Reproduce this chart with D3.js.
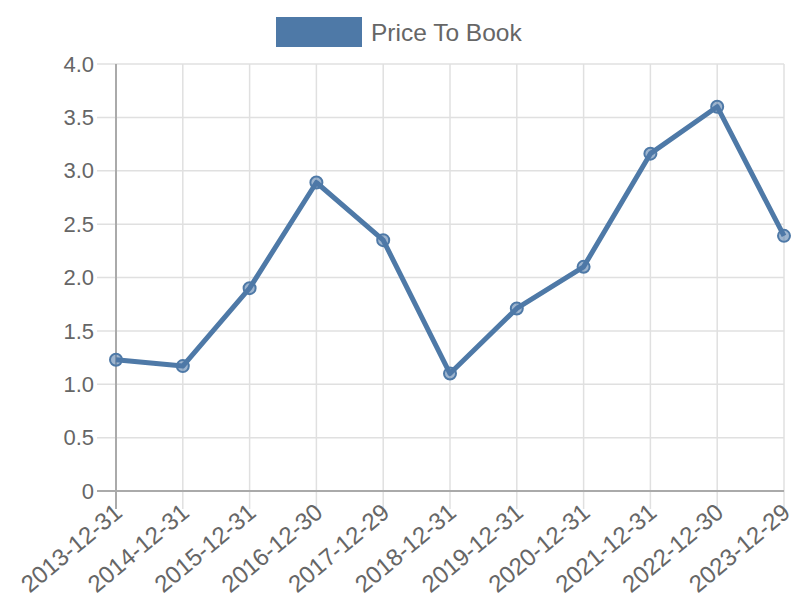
<!DOCTYPE html>
<html>
<head>
<meta charset="utf-8">
<script src="https://cdn.jsdelivr.net/npm/d3@7"></script>
<style>
  body { margin: 0; background: #fff; }
  text { font-family: "Liberation Sans", Arial, Helvetica, sans-serif; fill: #666; }
</style>
</head>
<body>
<svg id="chart" width="800" height="600"></svg>
<script>
const categories = ["2013-12-31","2014-12-31","2015-12-31","2016-12-30","2017-12-29","2018-12-31","2019-12-31","2020-12-31","2021-12-31","2022-12-30","2023-12-29"];
const priceToBook = [1.23, 1.17, 1.90, 2.89, 2.35, 1.10, 1.71, 2.10, 3.16, 3.60, 2.39];
const yTicks = [0, 0.5, 1.0, 1.5, 2.0, 2.5, 3.0, 3.5, 4.0];
const yTickLabels = ["0", "0.5", "1.0", "1.5", "2.0", "2.5", "3.0", "3.5", "4.0"];
const seriesName = "Price To Book";

const svg = d3.select("#chart");
const mLeft = 116, mRight = 784, mTop = 64, mBottom = 491;
const color = "#4e79a7";

const x = d3.scalePoint().domain(categories).range([mLeft, mRight]);
const y = d3.scaleLinear().domain([0, 4]).range([mBottom, mTop]);

// horizontal grid
svg.append("g").selectAll("line").data(yTicks).join("line")
  .attr("x1", mLeft - 19).attr("x2", mRight)
  .attr("y1", d => y(d)).attr("y2", d => y(d))
  .attr("stroke", "#e0e0e0").attr("stroke-width", 1.5);

// vertical grid
svg.append("g").selectAll("line").data(categories).join("line")
  .attr("x1", d => x(d)).attr("x2", d => x(d))
  .attr("y1", mTop).attr("y2", mBottom + 18)
  .attr("stroke", "#e0e0e0").attr("stroke-width", 1.5);

// axis lines
svg.append("line").attr("x1", mLeft - 19).attr("x2", mRight).attr("y1", y(0)).attr("y2", y(0))
  .attr("stroke", "#aaa").attr("stroke-width", 2);
svg.append("line").attr("x1", mLeft).attr("x2", mLeft).attr("y1", mTop).attr("y2", mBottom + 18)
  .attr("stroke", "#aaa").attr("stroke-width", 2);

// y labels
svg.append("g").selectAll("text").data(yTicks).join("text")
  .attr("x", mLeft - 22).attr("y", d => y(d)).attr("dy", "0.35em")
  .attr("text-anchor", "end").attr("font-size", 22)
  .text((d, i) => yTickLabels[i]);

// x labels
svg.append("g").selectAll("text").data(categories).join("text")
  .attr("transform", d => `translate(${x(d) - 3},${mBottom + 11}) rotate(-40)`)
  .attr("text-anchor", "end").attr("dy", "0.7em").attr("font-size", 24)
  .text(d => d);

// line
const line = d3.line().x((d, i) => x(categories[i])).y(d => y(d));
svg.append("path").datum(priceToBook)
  .attr("d", line).attr("fill", "none").attr("stroke", color)
  .attr("stroke-width", 5).attr("stroke-linejoin", "round");

// points
svg.append("g").selectAll("circle").data(priceToBook).join("circle")
  .attr("cx", (d, i) => x(categories[i])).attr("cy", d => y(d)).attr("r", 6)
  .attr("fill", "rgba(78,121,167,0.55)").attr("stroke", color).attr("stroke-width", 2);

// legend
const lg = svg.append("g");
lg.append("rect").attr("x", 276).attr("y", 17).attr("width", 86).attr("height", 30).attr("fill", color);
lg.append("text").attr("x", 371).attr("y", 32).attr("dy", "0.35em").attr("font-size", 24.5).text(seriesName);
</script>
</body>
</html>
